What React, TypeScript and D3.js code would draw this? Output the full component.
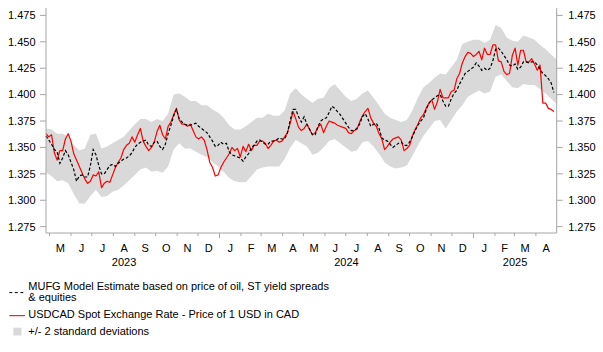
import React from 'react';
import * as d3 from 'd3';

// spot USDCAD, one reading every 4 days from 26 Apr 2023
const spot = [
  1.363, 1.360, 1.362, 1.345, 1.338, 1.347, 1.347, 1.358, 1.363, 1.356,
  1.344, 1.338, 1.332, 1.326, 1.320, 1.316, 1.318, 1.324, 1.323, 1.327,
  1.312, 1.316, 1.318, 1.317, 1.324, 1.331, 1.336, 1.340, 1.348, 1.352,
  1.354, 1.360, 1.355, 1.362, 1.368, 1.356, 1.351, 1.347, 1.350, 1.355,
  1.365, 1.371, 1.362, 1.358, 1.370, 1.374, 1.381, 1.387,
  1.376, 1.372, 1.372, 1.370, 1.372, 1.366, 1.360, 1.358, 1.360, 1.357,
  1.348, 1.336, 1.331, 1.323, 1.324, 1.331, 1.336, 1.340, 1.344, 1.350,
  1.347, 1.349, 1.341, 1.351, 1.346, 1.353, 1.347, 1.352, 1.352, 1.356,
  1.356, 1.354, 1.349, 1.352, 1.356, 1.357, 1.355, 1.356, 1.360, 1.364,
  1.373, 1.384, 1.377, 1.369, 1.366,
  1.368, 1.372, 1.367, 1.362, 1.364, 1.369, 1.372, 1.364, 1.370, 1.375,
  1.374, 1.373, 1.371, 1.370, 1.369, 1.368, 1.364, 1.363, 1.366, 1.367,
  1.374, 1.380, 1.384, 1.387, 1.378, 1.373, 1.370, 1.363, 1.358, 1.348,
  1.351, 1.355, 1.358, 1.359, 1.360, 1.357, 1.347, 1.349, 1.352, 1.361,
  1.367, 1.372, 1.378, 1.381, 1.387,
  1.392, 1.395, 1.386, 1.393, 1.405, 1.397, 1.397, 1.397, 1.403, 1.404,
  1.415, 1.420, 1.430, 1.436, 1.440, 1.439, 1.436, 1.438, 1.441, 1.433,
  1.444, 1.438, 1.438, 1.447, 1.447, 1.432, 1.431, 1.422, 1.419, 1.420,
  1.437, 1.444, 1.428, 1.442, 1.442, 1.431, 1.431, 1.434, 1.429, 1.423,
  1.428, 1.392, 1.392, 1.387, 1.386, 1.384,
];

// MUFG model estimate, same dates as spot
const model = [
  1.361, 1.357, 1.353, 1.348, 1.346, 1.335, 1.340, 1.347, 1.343, 1.336,
  1.329, 1.318, 1.323, 1.324, 1.322, 1.322, 1.333, 1.348, 1.343, 1.333,
  1.325, 1.325, 1.329, 1.333, 1.334, 1.332, 1.335, 1.337, 1.339, 1.340,
  1.342, 1.345, 1.350, 1.353, 1.355, 1.356, 1.357, 1.352, 1.351, 1.355,
  1.356, 1.351, 1.348, 1.353, 1.363, 1.371, 1.380, 1.386,
  1.377, 1.374, 1.372, 1.371, 1.371, 1.372, 1.373, 1.370, 1.368, 1.366,
  1.364, 1.360, 1.356, 1.351, 1.352, 1.355, 1.353, 1.354, 1.346, 1.343,
  1.342, 1.341, 1.340, 1.337, 1.341, 1.344, 1.350, 1.352, 1.356, 1.357,
  1.355, 1.353, 1.353, 1.356, 1.356, 1.357, 1.359, 1.358, 1.358, 1.364,
  1.376, 1.386, 1.386, 1.379, 1.374,
  1.379, 1.372, 1.367, 1.362, 1.362, 1.370, 1.375, 1.377, 1.378, 1.383,
  1.389, 1.387, 1.384, 1.381, 1.377, 1.373, 1.369, 1.366, 1.366, 1.368,
  1.372, 1.379, 1.382, 1.377, 1.370, 1.372, 1.373, 1.368, 1.359, 1.357,
  1.356, 1.353, 1.350, 1.352, 1.354, 1.355, 1.352, 1.352, 1.355, 1.360,
  1.366, 1.371, 1.375, 1.378, 1.386,
  1.392, 1.395, 1.397, 1.399, 1.400, 1.394, 1.389, 1.389, 1.396, 1.401,
  1.404, 1.410, 1.415, 1.420, 1.422, 1.424, 1.426, 1.430, 1.427, 1.423,
  1.425, 1.423, 1.425, 1.432, 1.443, 1.444, 1.441, 1.437, 1.433, 1.428,
  1.427, 1.429, 1.424, 1.426, 1.431, 1.431, 1.430, 1.431, 1.431, 1.428,
  1.424, 1.420, 1.418, 1.415, 1.411, 1.402,
];

// +/- 2 standard deviation band, one reading every 8 days from 26 Apr 2023
const bandHigh = [
  1.368, 1.367, 1.363, 1.363, 1.360, 1.352, 1.347, 1.349, 1.362, 1.363,
  1.349, 1.351, 1.354, 1.357, 1.360, 1.366, 1.372, 1.377, 1.377, 1.374,
  1.377, 1.375, 1.382, 1.400,
  1.401, 1.398, 1.394, 1.394, 1.390, 1.390, 1.386, 1.383, 1.378, 1.371,
  1.367, 1.367, 1.370, 1.374, 1.378, 1.378, 1.382, 1.380, 1.380, 1.385,
  1.401, 1.406, 1.400,
  1.396, 1.392, 1.396, 1.397, 1.406, 1.410, 1.404, 1.398, 1.394, 1.396,
  1.401, 1.404, 1.397, 1.390, 1.382, 1.378, 1.376, 1.374, 1.376, 1.385,
  1.397, 1.407, 1.411,
  1.416, 1.420, 1.419, 1.426, 1.433, 1.448, 1.450, 1.452, 1.452, 1.449,
  1.452, 1.466, 1.463, 1.454, 1.451, 1.450, 1.456, 1.454, 1.452, 1.447,
  1.443, 1.438, 1.433,
];

const bandLow = [
  1.326, 1.323, 1.318, 1.319, 1.316, 1.306, 1.297, 1.297, 1.304, 1.310,
  1.303, 1.304, 1.308, 1.310, 1.314, 1.319, 1.324, 1.329, 1.331, 1.327,
  1.328, 1.326, 1.332, 1.348,
  1.354, 1.349, 1.349, 1.346, 1.343, 1.341, 1.336, 1.332, 1.327, 1.321,
  1.318, 1.317, 1.317, 1.323, 1.329, 1.331, 1.332, 1.332, 1.332, 1.339,
  1.350, 1.357, 1.354,
  1.351, 1.343, 1.345, 1.350, 1.356, 1.358, 1.354, 1.350, 1.346, 1.347,
  1.355, 1.356, 1.351, 1.344, 1.336, 1.332, 1.330, 1.331, 1.333, 1.342,
  1.352, 1.361, 1.368,
  1.375, 1.376, 1.368, 1.376, 1.384, 1.390, 1.398, 1.401, 1.404, 1.401,
  1.403, 1.417, 1.419, 1.413, 1.407, 1.406, 1.410, 1.409, 1.409, 1.405,
  1.401, 1.396, 1.391,
];

const yTicks = [1.275, 1.3, 1.325, 1.35, 1.375, 1.4, 1.425, 1.45, 1.475];
const monthLetters = ['M', 'J', 'J', 'A', 'S', 'O', 'N', 'D', 'J', 'F', 'M', 'A',
  'M', 'J', 'J', 'A', 'S', 'O', 'N', 'D', 'J', 'F', 'M', 'A'];
const years = ['2023', '2024', '2025'];

const legendItems = [
  ['MUFG Model Estimate based on price of oil, ST yield spreads', '& equities'],
  ['USDCAD Spot Exchange Rate - Price of 1 USD in CAD'],
  ['+/- 2 standard deviations'],
];

const start = new Date(2023, 3, 26);
const end = new Date(2025, 4, 1);
const firstMonth = new Date(2023, 4, 1);

const W = 603;
const H = 352;
const left = 46;
const right = 556.7;
const top = 8;
const bottom = 233;
const axisColor = '#a6a6a6';
const font = '"Liberation Sans", Arial, sans-serif';

export default function App() {
  const x = d3.scaleTime().domain([start, end]).range([left, right]);
  const y = d3.scaleLinear().domain([1.269, 1.482]).range([bottom, top]);

  const spotPts = spot.map((v, i) => ({ d: d3.timeDay.offset(start, i * 4), v }));
  const modelPts = model.map((v, i) => ({ d: d3.timeDay.offset(start, i * 4), v }));
  const bandPts = bandHigh.map((hi, i) => ({ d: d3.timeDay.offset(start, i * 8), hi, lo: bandLow[i] }));

  const line = d3.line<{ d: Date; v: number }>().x(p => x(p.d)).y(p => y(p.v));
  const area = d3.area<{ d: Date; hi: number; lo: number }>()
    .x(p => x(p.d)).y0(p => y(p.lo)).y1(p => y(p.hi));

  const months = d3.timeMonth.range(firstMonth, end);
  const yearStarts = [new Date(2023, 0, 1), new Date(2024, 0, 1), new Date(2025, 0, 1)];
  const axisFloor = d3.timeMonth.floor(start);

  return (
    <svg width={W} height={H} style={{ position: 'absolute', left: 0, top: 0 }}
      fontFamily={font} fontSize={11}>
      <rect width={W} height={H} fill="#fff" />

      <path d={area(bandPts) || ''} fill="#d9d9d9" />
      <path d={line(spotPts) || ''} fill="none" stroke="#ff0000" strokeWidth={1.2} strokeLinejoin="round" />
      <path d={line(modelPts) || ''} fill="none" stroke="#000" strokeWidth={1.2} strokeDasharray="3,2" />

      {/* axes */}
      <line x1={left} x2={left} y1={top} y2={bottom} stroke={axisColor} />
      <line x1={right} x2={right} y1={top} y2={bottom} stroke={axisColor} />
      <line x1={left} x2={right} y1={bottom} y2={bottom} stroke={axisColor} />

      {yTicks.map(t => (
        <g key={t}>
          <line x1={left - 6} x2={left} y1={y(t)} y2={y(t)} stroke={axisColor} />
          <line x1={right} x2={right + 6} y1={y(t)} y2={y(t)} stroke={axisColor} />
          <text x={left - 10.5} y={y(t)} dy="0.35em" textAnchor="end" fill="#000">{d3.format('.3f')(t)}</text>
          <text x={right + 11.5} y={y(t)} dy="0.35em" fill="#000">{d3.format('.3f')(t)}</text>
        </g>
      ))}

      {months.map((m, i) => {
        const isYear = m.getMonth() === 0;
        const next = d3.timeMonth.offset(m, 1);
        return (
          <g key={i}>
            <line x1={x(m)} x2={x(m)} y1={bottom} y2={bottom + (isYear ? 5 : 3)} stroke={axisColor} />
            <text x={(x(m) + x(next)) / 2} y={251.7} textAnchor="middle" fill="#000">{monthLetters[i]}</text>
          </g>
        );
      })}

      {years.map((yr, i) => {
        const s = yearStarts[i] < axisFloor ? axisFloor : yearStarts[i];
        const eRaw = d3.timeYear.offset(yearStarts[i], 1);
        const e = eRaw > end ? end : eRaw;
        return (
          <text key={yr} x={(x(s) + x(e)) / 2} y={266} textAnchor="middle" fill="#000">{yr}</text>
        );
      })}

      {/* legend */}
      <g>
        <line x1={9.3} x2={25} y1={292.6} y2={292.6} stroke="#000" strokeDasharray="3,2.5" />
        <text x={28.3} y={290} fill="#000">{legendItems[0][0]}</text>
        <text x={28.3} y={301} fill="#000">{legendItems[0][1]}</text>
        <line x1={9.3} x2={25} y1={315.7} y2={315.7} stroke="#e00000" strokeWidth={1} />
        <text x={28.3} y={318.3} fill="#000">{legendItems[1][0]}</text>
        <rect x={13.3} y={327.7} width={8.2} height={7.8} fill="#d9d9d9" />
        <text x={28.3} y={334.8} fill="#000">{legendItems[2][0]}</text>
      </g>
    </svg>
  );
}
